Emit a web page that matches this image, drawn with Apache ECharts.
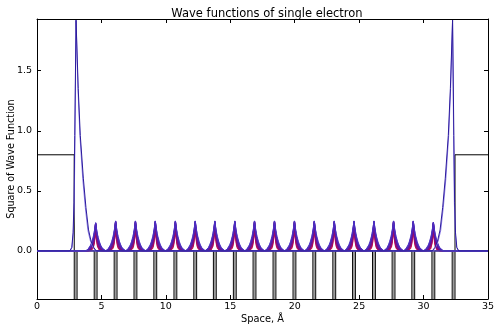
<!DOCTYPE html>
<html>
<head>
<meta charset="utf-8">
<script src="https://cdn.jsdelivr.net/npm/echarts@6/dist/echarts.min.js"></script>
<style>html,body{margin:0;padding:0;background:#fff;}#c{width:500px;height:327px;}</style>
</head>
<body>
<div id="c"></div>
<script>
// ---- data ----
const titleText = 'Wave functions of single electron';
const xName = 'Space, Å';
const yName = 'Square of Wave Function';
const xTicks = [0, 5, 10, 15, 20, 25, 30, 35];
const yTicks = [0, 0.5, 1.0, 1.5];

// potential: vacuum level, bulk level, well bottom (below view)
const potVacuum = 0.8;
const potBulk = 0.0;
const potWellBottom = -1.0;
const wellCenters = [3.0, 4.55, 6.1, 7.64, 9.18, 10.74, 12.28, 13.8, 15.35, 16.88,
                     18.43, 19.98, 21.52, 23.07, 24.6, 26.15, 27.67, 29.2, 30.76, 32.33];
const wellHalfWidth = 0.11;

// interior peak heights (wells 2..19)
const peakHeights = [0.235, 0.25, 0.25, 0.25, 0.25, 0.25, 0.25, 0.25, 0.25,
                     0.25, 0.25, 0.25, 0.25, 0.25, 0.25, 0.25, 0.25, 0.24];
// half peak profiles read from the peaks (offset from well centre -> value for a 0.25 peak), mirrored
const profileOffsets = [-0.77, -0.6, -0.5, -0.4, -0.3, -0.2, -0.15, -0.1, -0.05, 0,
                        0.05, 0.1, 0.15, 0.2, 0.3, 0.4, 0.5, 0.6, 0.77];
const halfA = [0, 0.014, 0.028, 0.05, 0.08, 0.12, 0.145, 0.175, 0.21, 0.25];
const halfB = [0, 0.01, 0.021, 0.04, 0.067, 0.105, 0.13, 0.162, 0.2, 0.248];
const halfC = [0, 0.007, 0.015, 0.031, 0.055, 0.09, 0.115, 0.148, 0.19, 0.246];
const halfD = [0, 0.004, 0.01, 0.022, 0.043, 0.076, 0.1, 0.134, 0.178, 0.244];
const halfE = [0, 0.002, 0.006, 0.015, 0.032, 0.062, 0.085, 0.12, 0.166, 0.242];
const halfF = [0, 0.001, 0.003, 0.009, 0.022, 0.048, 0.07, 0.104, 0.152, 0.24];
const halfG = [0, 0, 0.001, 0.005, 0.014, 0.035, 0.055, 0.088, 0.138, 0.236];
const halfH = [0, 0, 0, 0.002, 0.007, 0.023, 0.04, 0.07, 0.12, 0.232];

// surface states
const surfLeftDarkX  = [0, 2.55, 2.7, 2.8, 2.87, 2.93, 3.03, 3.2, 3.36, 3.6, 3.8, 4.0, 4.2, 4.4, 4.6, 35];
const surfLeftDarkY  = [0, 0, 0.03, 0.15, 0.4, 0.96, 1.92, 1.35, 0.96, 0.6, 0.36, 0.175, 0.08, 0.03, 0, 0];
const surfLeftLightX = [0, 2.58, 2.72, 2.82, 2.89, 2.95, 3.03, 3.18, 3.33, 3.55, 3.75, 3.95, 4.15, 4.35, 4.55, 35];
const surfLeftLightY = [0, 0, 0.03, 0.15, 0.4, 0.96, 1.92, 1.35, 0.96, 0.6, 0.36, 0.17, 0.08, 0.03, 0, 0];
const surfRightDarkX  = [0, 30.68, 30.88, 31.08, 31.28, 31.48, 31.68, 31.92, 32.08, 32.25, 32.35, 32.41, 32.48, 32.58, 32.73, 35];
const surfRightDarkY  = [0, 0, 0.03, 0.08, 0.175, 0.36, 0.6, 0.96, 1.35, 1.92, 0.96, 0.4, 0.15, 0.03, 0, 0];
const surfRightLightX = [0, 30.73, 30.93, 31.13, 31.33, 31.53, 31.73, 31.95, 32.1, 32.25, 32.33, 32.39, 32.46, 32.56, 32.7, 35];
const surfRightLightY = [0, 0, 0.03, 0.08, 0.17, 0.36, 0.6, 0.96, 1.35, 1.92, 0.96, 0.4, 0.15, 0.03, 0, 0];

// ---- build series data ----
function zip(xs, ys) { return xs.map((x, i) => [x, ys[i]]); }
function full(half) { return half.concat(half.slice(0, -1).reverse()); }

const potential = [[0, potVacuum]];
wellCenters.forEach((c, i) => {
  const l = c - wellHalfWidth, r = c + wellHalfWidth;
  const lvlL = i === 0 ? potVacuum : potBulk;
  const lvlR = i === wellCenters.length - 1 ? potVacuum : potBulk;
  potential.push([l, lvlL], [l, potWellBottom], [r, potWellBottom], [r, lvlR]);
});
potential.push([35, potVacuum]);

const wellAreas = wellCenters.map(c => [
  { xAxis: c - wellHalfWidth * 0.6, yAxis: -0.4 },
  { xAxis: c + wellHalfWidth * 0.6, yAxis: 0 }
]);

function peaks(half) {
  const profile = full(half);
  const d = [[0, 0]];
  peakHeights.forEach((h, k) => {
    const c = wellCenters[k + 1];
    profileOffsets.forEach((o, j) => d.push([c + o, profile[j] * h / 0.25]));
  });
  d.push([35, 0]);
  return d;
}

const font = 'DejaVu Sans';
function lineSeries(name, data, color, z, w) {
  return { name, type: 'line', data, showSymbol: false, symbol: 'none', z,
           lineStyle: { color, width: w || 1 }, itemStyle: { color }, animation: false,
           xAxisIndex: 0, yAxisIndex: 0 };
}

const series = [
  Object.assign(lineSeries('potential', potential, '#000', 1), {
    markArea: { silent: true, itemStyle: { color: '#9a9a9a' }, data: wellAreas }
  }),
  lineSeries('s8', peaks(halfH), '#cc1044', 2, 1.2),
  lineSeries('s7', peaks(halfG), '#aa0c60', 2, 1.2),
  lineSeries('s6', peaks(halfF), '#8e0c76', 3, 1.2),
  lineSeries('s5', peaks(halfE), '#780e88', 3, 1.2),
  lineSeries('s4', peaks(halfD), '#661496', 4, 1.2),
  lineSeries('s3', peaks(halfC), '#5a1ca6', 4, 1.2),
  lineSeries('s2', peaks(halfB), '#5026b4', 5, 1.2),
  lineSeries('s1', peaks(halfA), '#4a30c4', 6, 1),
  lineSeries('surfLL', zip(surfLeftLightX, surfLeftLightY), '#8f80e8', 7),
  lineSeries('surfRL', zip(surfRightLightX, surfRightLightY), '#8f80e8', 7),
  lineSeries('surfLD', zip(surfLeftDarkX, surfLeftDarkY), '#2b1a9c', 8),
  lineSeries('surfRD', zip(surfRightDarkX, surfRightDarkY), '#2b1a9c', 8)
];

const axisLine = { show: true, onZero: false, lineStyle: { color: '#000', width: 1 } };
const labelStyle = { color: '#000', fontSize: 9.5, fontFamily: font };

const option = {
  animation: false,
  backgroundColor: '#fff',
  title: { text: titleText, left: 262, textAlign: 'center', top: 3,
           textStyle: { fontFamily: font, fontSize: 11.5, fontWeight: 'normal', color: '#000' } },
  grid: { left: 37, right: 12, top: 19, bottom: 28, containLabel: false, outerBoundsMode: 'none' },
  xAxis: [
    { type: 'value', min: 0, max: 35, interval: 5, position: 'bottom',
      axisLine, axisTick: { show: true, inside: true, length: 4, lineStyle: { color: '#000' } },
      axisLabel: Object.assign({ margin: 3, formatter: v => String(v) }, labelStyle),
      splitLine: { show: false },
      name: xName, nameLocation: 'middle', nameGap: 15, nameMoveOverlap: false,
      nameTextStyle: { fontFamily: font, fontSize: 9.8, color: '#000' } },
    { type: 'value', min: 0, max: 35, interval: 5, position: 'top',
      axisLine, axisTick: { show: true, inside: true, length: 4, lineStyle: { color: '#000' } },
      axisLabel: { show: false }, splitLine: { show: false } }
  ],
  yAxis: [
    { type: 'value', min: -0.4, max: 1.93, position: 'left',
      axisLine,
      axisTick: { show: true, inside: true, length: 4, customValues: yTicks, lineStyle: { color: '#000' } },
      axisLabel: Object.assign({ margin: 5, customValues: yTicks, formatter: v => v.toFixed(1) }, labelStyle),
      splitLine: { show: false },
      name: yName, nameLocation: 'middle', nameGap: 21, nameRotate: 90, nameMoveOverlap: false,
      nameTextStyle: { fontFamily: font, fontSize: 9.6, color: '#000' } },
    { type: 'value', min: -0.4, max: 1.93, position: 'right',
      axisLine,
      axisTick: { show: true, inside: true, length: 4, customValues: yTicks, lineStyle: { color: '#000' } },
      axisLabel: { show: false }, splitLine: { show: false } }
  ],
  series
};

const chart = echarts.init(document.getElementById('c'), null, { renderer: 'canvas' });
chart.setOption(option);
</script>
</body>
</html>
